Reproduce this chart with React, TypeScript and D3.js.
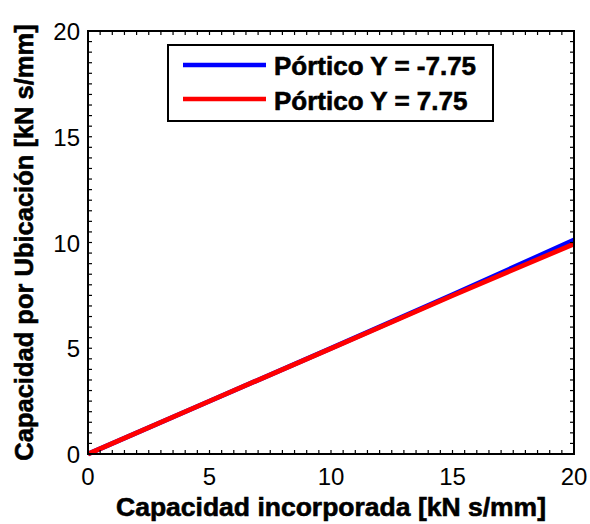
import * as d3 from 'd3';

const xValues = [0, 5, 10, 15, 20];
const bluePortico = [0, 2.5, 5.0, 7.53, 10.12];
const redPortico = [0, 2.5, 4.99, 7.49, 9.93];
const tickValues = [0, 5, 10, 15, 20];
const seriesNames = ['Pórtico Y = -7.75', 'Pórtico Y = 7.75'];
const seriesColors = ['#0000ff', '#ff0000'];

const width = 590;
const height = 524;
const margin = { top: 31, right: 16, bottom: 70, left: 88 };
const font = 'Liberation Sans, Arial, sans-serif';

const App = () => {
  const x = d3.scaleLinear().domain([0, 20]).range([margin.left, width - margin.right]);
  const y = d3.scaleLinear().domain([0, 20]).range([height - margin.bottom, margin.top]);

  const line = d3.line<number>()
    .x((_, i) => x(xValues[i]))
    .y(d => y(d));

  const minor = d3.range(0, 20.01, 0.5);
  const tickLen = 4;
  const x0 = x(0), x1 = x(20), y0 = y(0), y1 = y(20);

  return (
    <svg width={width} height={height} style={{ position: 'absolute', left: 0, top: 0, background: '#fff' }}>
      {/* data lines */}
      {[bluePortico, redPortico].map((s, i) => (
        <path key={i} d={line(s) || ''} fill="none" stroke={seriesColors[i]} strokeWidth={4.8} />
      ))}

      {/* frame */}
      <rect x={x0} y={y1} width={x1 - x0} height={y0 - y1} fill="none" stroke="#000" strokeWidth={2} />

      {/* inward ticks on all sides */}
      {minor.map(v => (
        <g key={v} stroke="#000" strokeWidth={1.2}>
          <line x1={x(v)} x2={x(v)} y1={y0} y2={y0 - tickLen} />
          <line x1={x(v)} x2={x(v)} y1={y1} y2={y1 + tickLen} />
          <line x1={x0} x2={x0 + tickLen} y1={y(v)} y2={y(v)} />
          <line x1={x1} x2={x1 - tickLen} y1={y(v)} y2={y(v)} />
        </g>
      ))}

      {/* tick labels */}
      {tickValues.map(v => (
        <g key={v} fontFamily={font} fontSize={24} fill="#000">
          <text x={x(v)} y={485} textAnchor="middle">{v}</text>
          <text x={80} y={y(v) + 9} textAnchor="end">{v}</text>
        </g>
      ))}

      {/* axis titles */}
      <text x={(x0 + x1) / 2} y={516} textAnchor="middle" fontFamily={font} fontSize={26.5} fontWeight="bold" stroke="#000" strokeWidth={0.6}>
        Capacidad incorporada [kN s/mm]
      </text>
      <text transform={`translate(33, ${(y0 + y1) / 2}) rotate(-90)`} textAnchor="middle" fontFamily={font} fontSize={25.5} fontWeight="bold" stroke="#000" strokeWidth={0.6}>
        Capacidad por Ubicación [kN s/mm]
      </text>

      {/* legend */}
      <rect x={168} y={45} width={325} height={76} fill="#fff" stroke="#000" strokeWidth={2} />
      {seriesNames.map((name, i) => (
        <g key={name}>
          <line x1={183} x2={266} y1={65 + i * 34} y2={65 + i * 34} stroke={seriesColors[i]} strokeWidth={4.5} />
          <text x={274} y={75 + i * 35} fontFamily={font} fontSize={26} fontWeight="bold" stroke="#000" strokeWidth={0.6}>{name}</text>
        </g>
      ))}
    </svg>
  );
};

export default App;
